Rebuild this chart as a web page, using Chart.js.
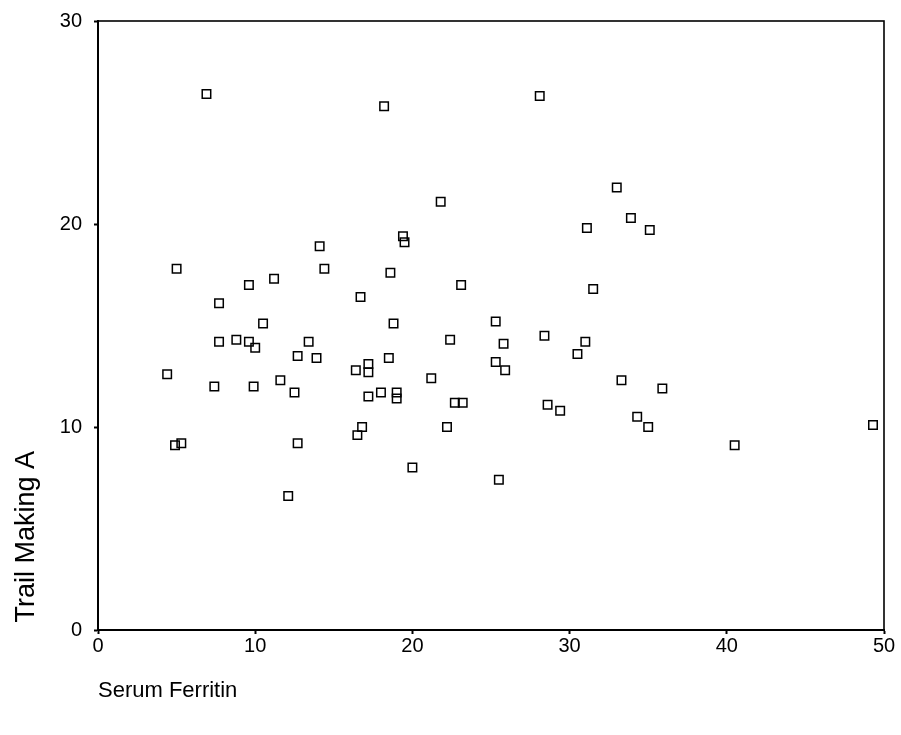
<!DOCTYPE html>
<html>
<head>
<meta charset="utf-8">
<title>Serum Ferritin vs Trail Making A</title>
<script src="https://cdn.jsdelivr.net/npm/chart.js@4/dist/chart.umd.min.js"></script>
<style>
    html, body {margin: 0; padding: 0; background: #fff;}
    #wrap {width: 901px; height: 735px; position: relative;}
</style>
</head>
<body>
<div id="wrap"><canvas id="chart"></canvas></div>
<script>
'use strict'

// values
let ferritin = [
        6.9, 18.2, 28.1, 21.8, 5.0, 7.7, 9.6, 11.2, 10.5, 14.1,
        14.4, 16.7, 18.6, 18.8, 19.4, 19.5, 33.0, 33.9, 35.1, 31.1,
        31.5, 23.1, 25.3, 4.4, 4.9, 5.3, 7.4, 7.7, 8.8, 9.6,
        10.0, 9.9, 11.6, 12.1, 12.5, 12.7, 12.7, 13.4, 13.9, 16.4,
        16.5, 16.8, 17.2, 17.2, 17.2, 18.0, 18.5, 19.0, 19.0, 20.0,
        21.2, 22.2, 22.4, 22.7, 23.2, 25.8, 25.3, 25.9, 25.5, 28.4,
        31.0, 30.5, 28.6, 29.4, 33.3, 35.9, 34.3, 35.0, 40.5, 49.3],
    trailA = [
        26.4, 25.8, 26.3, 21.1, 17.8, 16.1, 17.0, 17.3, 15.1, 18.9,
        17.8, 16.4, 17.6, 15.1, 19.4, 19.1, 21.8, 20.3, 19.7, 19.8,
        16.8, 17.0, 15.2, 12.6, 9.1, 9.2, 12.0, 14.2, 14.3, 14.2,
        13.9, 12.0, 12.3, 6.6, 11.7, 13.5, 9.2, 14.2, 13.4, 12.8,
        9.6, 10.0, 13.1, 12.7, 11.5, 11.7, 13.4, 11.7, 11.4, 8.0,
        12.4, 10.0, 14.3, 11.2, 11.2, 14.1, 13.2, 12.8, 7.4, 14.5,
        14.2, 13.6, 11.1, 10.8, 12.3, 11.9, 10.5, 10.0, 9.1, 10.1],
    xTicks = [0, 10, 20, 30, 40, 50],
    yTicks = [0, 10, 20, 30],
    xTitle = 'Serum Ferritin',
    yTitle = ' Trail Making A'   // leading space lifts it off the corner like the original

let points = ferritin.map((x, i) => ({x: x, y: trailA[i]}))

// draws the box round the plot area (top and right sides too)
let frame = {
    id: 'frame',
    afterDraw(chart) {
        let ctx = chart.ctx, a = chart.chartArea
        ctx.save()
        ctx.strokeStyle = '#000'
        ctx.lineWidth = 1.6
        ctx.strokeRect(a.left, a.top, a.right - a.left, a.bottom - a.top)
        ctx.restore()
    }
}

Chart.defaults.font.family = '"Liberation Sans", Arial, sans-serif'
Chart.defaults.color = '#000'

let config = {
    type: 'scatter',
    data: {
        datasets: [{
            data: points,
            pointStyle: 'rect',
            radius: 6,
            borderWidth: 1.5,
            borderColor: '#000',
            backgroundColor: 'rgba(255,255,255,0)'
        }]
    },
    options: {
        responsive: true,
        maintainAspectRatio: false,
        animation: false,
        layout: {padding: {left: 0, right: 17, top: 21, bottom: 0}},
        plugins: {
            legend: {display: false},
            tooltip: {enabled: false}
        },
        scales: {
            x: {
                type: 'linear',
                min: 0,
                max: 50,
                afterBuildTicks: (axis) => { axis.ticks = xTicks.map(v => ({value: v})) },
                afterFit: (axis) => { axis.height = 105 },
                border: {display: true, color: '#000', width: 2},
                grid: {drawOnChartArea: false, color: '#000', tickLength: 4, tickWidth: 2},
                ticks: {padding: 0, font: {size: 20}, maxRotation: 0},
                title: {
                    display: true,
                    text: xTitle,
                    align: 'start',
                    font: {size: 22},
                    padding: {top: 0, bottom: 31}
                }
            },
            y: {
                type: 'linear',
                min: 0,
                max: 30,
                afterBuildTicks: (axis) => { axis.ticks = yTicks.map(v => ({value: v})) },
                afterFit: (axis) => {
                    axis.width = 98
                    axis.paddingTop = 0
                    axis.paddingBottom = 0
                },
                border: {display: true, color: '#000', width: 2},
                grid: {drawOnChartArea: false, color: '#000', tickLength: 4, tickWidth: 2},
                ticks: {padding: 12, font: {size: 20}},
                title: {
                    display: true,
                    text: yTitle,
                    align: 'start',
                    font: {size: 27},
                    padding: {top: 10, bottom: 0}
                }
            }
        }
    },
    plugins: [frame]
}

let myChart = new Chart(document.getElementById('chart'), config)
</script>
</body>
</html>
